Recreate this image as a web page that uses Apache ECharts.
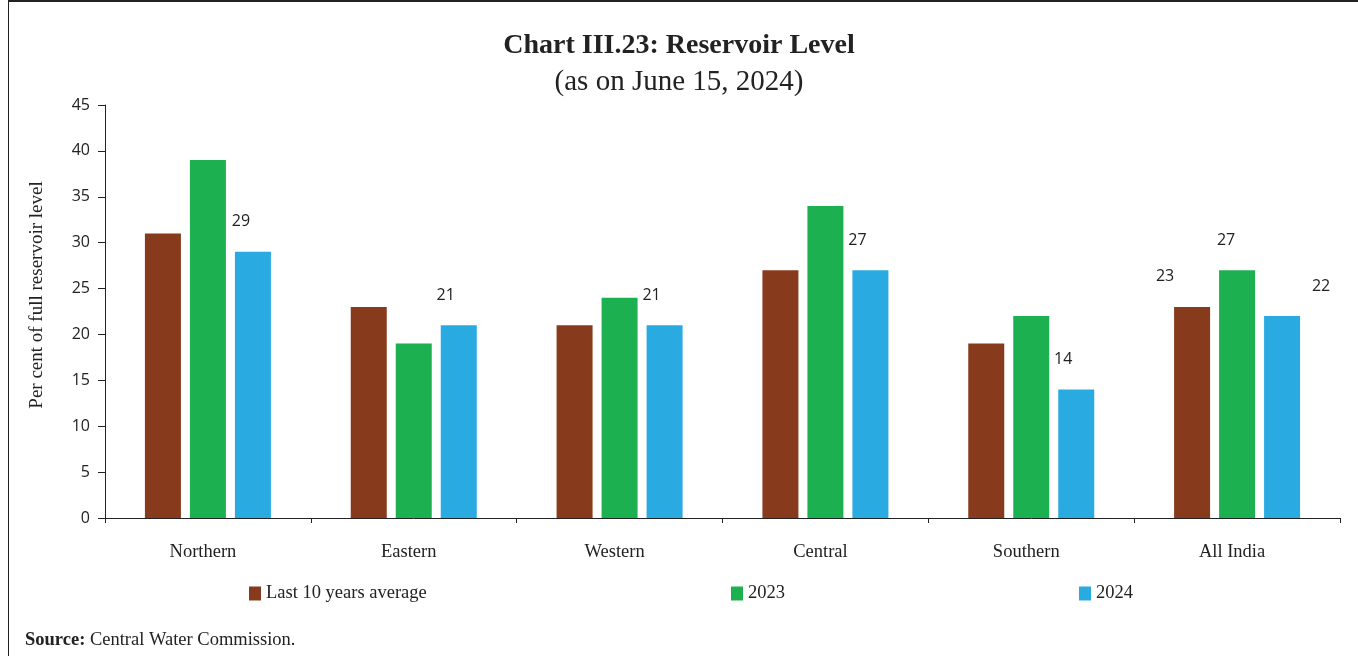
<!DOCTYPE html>
<html>
<head>
<meta charset="utf-8">
<script src="https://cdn.jsdelivr.net/npm/echarts@6/dist/echarts.min.js"></script>
<style>html,body{margin:0;padding:0;background:#fff}#c{width:1358px;height:656px}</style>
</head>
<body>
<div id="c"></div>
<script>
const categories = ['Northern', 'Eastern', 'Western', 'Central', 'Southern', 'All India'];
const seriesNames = ['Last 10 years average', '2023', '2024'];
const avg10 = [31, 23, 21, 27, 19, 23];
const y2023 = [39, 19, 24, 34, 22, 27];
const y2024 = [29, 21, 21, 27, 14, 22];
const yTicks = [0, 5, 10, 15, 20, 25, 30, 35, 40, 45];
// which values show a data label: [seriesIndex, categoryIndex, dx]
const shownLabels = [[2,0,-12],[2,1,-13],[2,2,-13],[2,3,-13],[2,4,-13],[2,5,39],[1,5,-11],[0,5,-27]];

const colors = ['#873B1C', '#1DB051', '#29ABE2'];
const serif = 'Liberation Serif';
const sans = 'Open Sans';

function mkData(vals, si) {
  return vals.map((v, ci) => {
    const l = shownLabels.find(s => s[0] === si && s[1] === ci);
    if (!l) return v;
    return { value: v, label: { show: true, position: 'top', offset: [l[2], -17], color: '#222', fontFamily: sans, fontSize: 16 } };
  });
}
const allVals = [avg10, y2023, y2024];

const chart = echarts.init(document.getElementById('c'), null, { renderer: 'canvas' });
chart.setOption({
  animation: false,
  backgroundColor: '#fff',
  title: [{
    text: 'Chart III.23: Reservoir Level',
    left: 'center', top: 27,
    textStyle: { fontFamily: serif, fontWeight: 'bold', fontSize: 28, color: '#222' }
  }, {
    text: '(as on June 15, 2024)',
    left: 'center', top: 63,
    textStyle: { fontFamily: serif, fontWeight: 'normal', fontSize: 29, color: '#222' }
  }],
  legend: seriesNames.map((n, i) => ({
    data: [n], left: [244, 726, 1074][i], top: 579,
    itemWidth: 12, itemHeight: 14, itemGap: 6, icon: 'rect',
    textStyle: { fontFamily: serif, fontSize: 18.5, color: '#222' }
  })),
  grid: { left: 105, right: 18, top: 105, bottom: 138, containLabel: false },
  xAxis: {
    type: 'category', data: categories,
    axisLine: { lineStyle: { color: '#222', width: 1 } },
    axisTick: { show: true, alignWithLabel: false, length: 5, lineStyle: { color: '#222' } },
    axisLabel: { fontFamily: serif, fontSize: 18.5, color: '#222', margin: 25, padding: [0, 10, 0, 0] }
  },
  yAxis: {
    type: 'value', min: 0, max: 45, interval: 5,
    axisLine: { show: true, lineStyle: { color: '#222', width: 1 } },
    axisTick: { show: true, length: 7, lineStyle: { color: '#222' } },
    axisLabel: { fontFamily: sans, fontSize: 16, color: '#222', margin: 15,
      formatter: v => yTicks.includes(v) ? String(v) : '' },
    splitLine: { show: false }
  },
  series: seriesNames.map((n, i) => ({
    name: n, type: 'bar', data: mkData(allVals[i], i),
    barWidth: 36, barGap: '25%',
    itemStyle: { color: colors[i] }
  })),
  graphic: [
    { type: 'line', shape: { x1: 8.5, y1: 0, x2: 8.5, y2: 656 }, style: { stroke: '#222', lineWidth: 1 } },
    { type: 'line', shape: { x1: 8, y1: 1, x2: 1358, y2: 1 }, style: { stroke: '#222', lineWidth: 2 } },
    { type: 'text', x: 37, y: 295, rotation: Math.PI / 2, style: {
      text: 'Per cent of full reservoir level', align: 'center', verticalAlign: 'middle',
      font: '19px "Liberation Serif"', fill: '#222'
    } },
    { type: 'text', left: 25, top: 631, style: {
      text: '{b|Source:} Central Water Commission.',
      rich: { b: { fontFamily: serif, fontWeight: 'bold', fontSize: 18.5, fill: '#222' } },
      font: '18.5px "Liberation Serif"', fill: '#222'
    } }
  ]
});
</script>
</body>
</html>
